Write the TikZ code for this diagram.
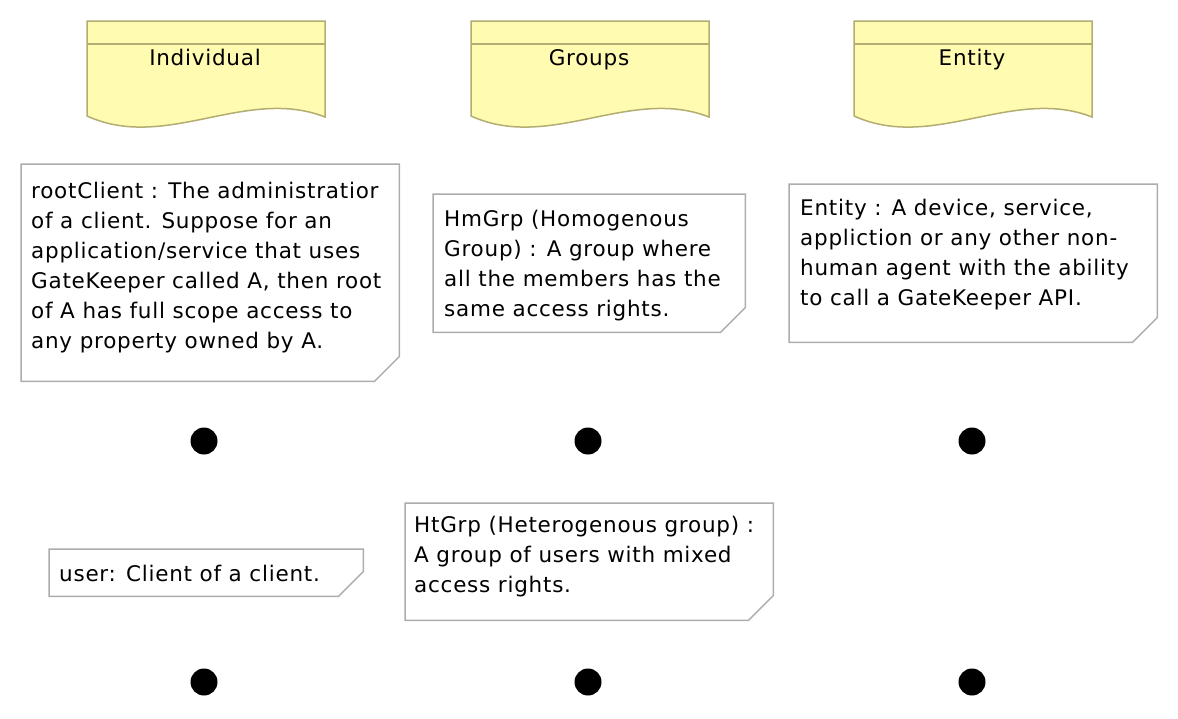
\documentclass[tikz,border=0pt]{standalone}
\usepackage{fontspec}
\newfontfamily\notefont{DejaVu Sans}[LetterSpace=3.5]
\usetikzlibrary{positioning}
\definecolor{hdrfill}{RGB}{255,251,176}
\definecolor{hdrdraw}{RGB}{178,173,112}
\definecolor{notedraw}{RGB}{172,172,172}

\begin{document}
\begin{tikzpicture}[
    x=1pt,y=-1pt,
    mynote/.style={
    rectangle,
    inner sep=0pt,
    anchor=north west},
    myline/.style={draw=notedraw,line width=1.5pt},
    mytext/.style={anchor=base west,align=left,inner sep=0pt,
    font=\fontsize{21.5}{30}\selectfont\notefont},
    myhead/.style={draw=hdrdraw,fill=hdrfill,line width=1.5pt},
    mydot/.style={circle,fill=black,inner sep=0pt,minimum size=27pt}
    ]
    \useasboundingbox (0,0) rectangle (1178,718);

    \foreach \cx/\nm/\lbl in {206/ind/Individual,590/grp/Groups,973/ent/Entity}{
    \draw[myhead] (\cx-119,21) -- (\cx+119,21) -- (\cx+119,117)
        .. controls (\cx+40,86) and (\cx-40,152) .. (\cx-119,116) -- cycle;
    \draw[myhead] (\cx-119,44) -- (\cx+119,44);
    \node[mytext,anchor=base] (\nm) at (\cx-1,65) {\lbl};
    }

    \node[mynote,minimum width=378pt,minimum height=217pt] (root) at (21,164) {};
    \node[mynote,minimum width=312pt,minimum height=138pt] (hmgrp) at (433,194) {};
    \node[mynote,minimum width=368pt,minimum height=158pt] (entity) at (789,184) {};
    \node[mynote,minimum width=314pt,minimum height=47pt] (user) at (49,549) {};
    \node[mynote,minimum width=368pt,minimum height=117pt] (htgrp) at (405,503) {};

    \foreach \n in {root,hmgrp,entity,user,htgrp}{
    \draw[myline] (\n.north west) -- (\n.north east) -- ([yshift=25pt]\n.south east)
        -- ([xshift=-25pt]\n.south east) -- (\n.south west) -- cycle;
    }

    \node[mytext] (root-t) at ([xshift=10pt,yshift=-184pt]root.north west)
        {rootClient : The administratior\\of a client. Suppose for an\\application/service that uses\\GateKeeper called A, then root\\of A has full scope access to\\any property owned by A.};
    \node[mytext] (hmgrp-t) at ([xshift=11pt,yshift=-122pt]hmgrp.north west)
        {HmGrp (Homogenous\\Group) : A group where\\all the members has the\\same access rights.};
    \node[mytext] (entity-t) at ([xshift=11pt,yshift=-121pt]entity.north west)
        {Entity : A device, service,\\appliction or any other non-\\human agent with the ability\\to call a GateKeeper API.};
    \node[mytext] (user-t) at ([xshift=10pt,yshift=-32pt]user.north west)
        {user: Client of a client.};
    \node[mytext] (htgrp-t) at ([xshift=9pt,yshift=-89pt]htgrp.north west)
        {HtGrp (Heterogenous group) :\\A group of users with mixed\\access rights.};

    \foreach \x/\c in {204/a,588/b,972/c}{
    \node[mydot] (top-\c) at (\x,441) {};
    \node[mydot] (bot-\c) at (\x,682) {};
    }
\end{tikzpicture}
\end{document}
